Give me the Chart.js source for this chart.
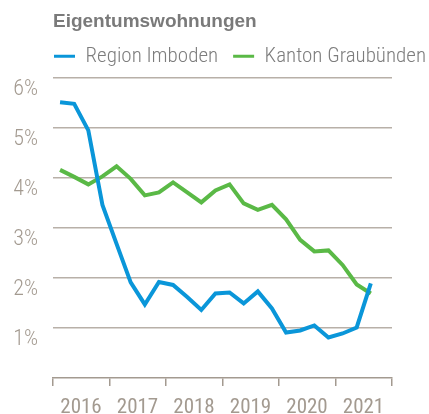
<!DOCTYPE html>
<html>
<head>
<meta charset="utf-8">
<script src="https://cdn.jsdelivr.net/npm/chart.js@4"></script>
<style>
  html, body { margin: 0; padding: 0; background: #fff; }
  #wrap { width: 429px; height: 414px; }
</style>
</head>
<body>
<div id="wrap"><canvas id="chart" width="429" height="414"></canvas></div>
<script>
// Quartale 2016 Q1 bis 2021 Q3
const quarters = [
  '2016-1', '2016-2', '2016-3', '2016-4',
  '2017-1', '2017-2', '2017-3', '2017-4',
  '2018-1', '2018-2', '2018-3', '2018-4',
  '2019-1', '2019-2', '2019-3', '2019-4',
  '2020-1', '2020-2', '2020-3', '2020-4',
  '2021-1', '2021-2', '2021-3',
];
const regionImboden = [
  5.51, 5.48, 4.95, 3.46, 2.68, 1.91, 1.47, 1.92,
  1.86, 1.62, 1.36, 1.69, 1.71, 1.49, 1.73, 1.39,
  0.91, 0.95, 1.05, 0.81, 0.89, 1.01, 1.89,
];
const kantonGraubuenden = [
  4.16, 4.02, 3.87, 4.03, 4.23, 3.98, 3.65, 3.71,
  3.91, 3.71, 3.51, 3.75, 3.87, 3.49, 3.36, 3.46,
  3.17, 2.76, 2.53, 2.55, 2.26, 1.87, 1.69,
];
const yearTicks = [2016, 2017, 2018, 2019, 2020, 2021];
const percentTicks = [1, 2, 3, 4, 5, 6];

const seriesNames = ['Region Imboden', 'Kanton Graubünden'];
const BLUE = '#0a96d9';
const GREEN = '#5ab946';
const AXIS = '#a39a90';
const GRID = '#b8b0a8';
const COND = "'Roboto Condensed', 'DejaVu Sans Condensed', sans-serif";

// Quartal -> Position auf der Jahresachse (Mitte des Quartals)
function toX(q) {
  const [y, n] = q.split('-').map(Number);
  return y + (n - 0.5) / 4;
}
const points = (arr) => arr.map((v, i) => ({ x: toX(quarters[i]), y: v }));

// Legende an die linke Kante der Grafik schieben
const legendShift = {
  id: 'legendShift',
  afterLayout(chart) {
    const lg = chart.legend;
    const dx = chart.chartArea.left + 1 - lg.options.labels.padding;
    lg.left += dx; lg.right += dx;
    lg.top -= 1; lg.bottom -= 1;
  },
};

const chart = new Chart(document.getElementById('chart'), {
  type: 'line',
  data: {
    datasets: [
      {
        label: seriesNames[0],
        data: points(regionImboden),
        borderColor: BLUE,
        backgroundColor: BLUE,
        borderWidth: 4,
        pointRadius: 0,
        tension: 0,
      },
      {
        label: seriesNames[1],
        data: points(kantonGraubuenden),
        borderColor: GREEN,
        backgroundColor: GREEN,
        borderWidth: 4,
        pointRadius: 0,
        tension: 0,
      },
    ],
  },
  options: {
    responsive: false,
    animation: false,
    devicePixelRatio: 1,
    layout: { padding: 0 },
    scales: {
      x: {
        type: 'linear',
        min: 2016,
        max: 2022,
        afterBuildTicks: (s) => {
          s.ticks = yearTicks.concat([2022]).map((v) => ({ value: v }));
        },
        afterFit: (s) => { s.height = 36; },
        border: { display: true, color: AXIS, width: 1.5 },
        grid: {
          drawOnChartArea: false,
          drawTicks: true,
          tickLength: 8,
          color: AXIS,
          lineWidth: 1.5,
        },
        ticks: {
          autoSkip: false,
          maxRotation: 0,
          padding: 9,
          labelOffset: 28,
          color: AXIS,
          font: { family: COND, size: 21 },
          callback: (v) => (yearTicks.includes(v) ? String(v) : ''),
        },
      },
      y: {
        min: 0,
        max: 6,
        afterBuildTicks: (s) => {
          s.ticks = [0].concat(percentTicks).map((v) => ({ value: v }));
        },
        afterFit: (s) => { s.width = 53; },
        border: { display: false },
        grid: {
          drawTicks: false,
          color: (ctx) => (ctx.tick && ctx.tick.value === 0 ? 'rgba(0,0,0,0)' : GRID),
          lineWidth: 1.5,
        },
        ticks: {
          padding: 15,
          labelOffset: 12,
          color: AXIS,
          font: { family: COND, size: 22, weight: 300 },
          callback: (v) => (percentTicks.includes(v) ? `${v}%` : ''),
        },
      },
      // leerer Rand rechts
      yRight: {
        position: 'right',
        display: true,
        afterFit: (s) => { s.width = 37; },
        border: { display: false },
        grid: { display: false },
        ticks: { display: false },
      },
    },
    plugins: {
      title: {
        display: true,
        text: 'Eigentumswohnungen',
        align: 'start',
        fullSize: false,
        color: '#7a7a7a',
        font: { family: "'Liberation Sans', Arial, sans-serif", size: 19, weight: 'bold', lineHeight: 1.2 },
        padding: { top: 10, bottom: -1 },
      },
      legend: {
        display: true,
        position: 'top',
        align: 'start',
        fullSize: true,
        labels: {
          boxWidth: 21,
          boxHeight: 3,
          padding: 15,
          color: '#7d7d7d',
          font: { family: COND, size: 21, weight: 300 },
          generateLabels: (c) => Chart.defaults.plugins.legend.labels.generateLabels(c)
            .map((item) => ({ ...item, lineWidth: 0 })),
        },
      },
      tooltip: { enabled: false },
    },
  },
  plugins: [legendShift],
});
</script>
</body>
</html>
